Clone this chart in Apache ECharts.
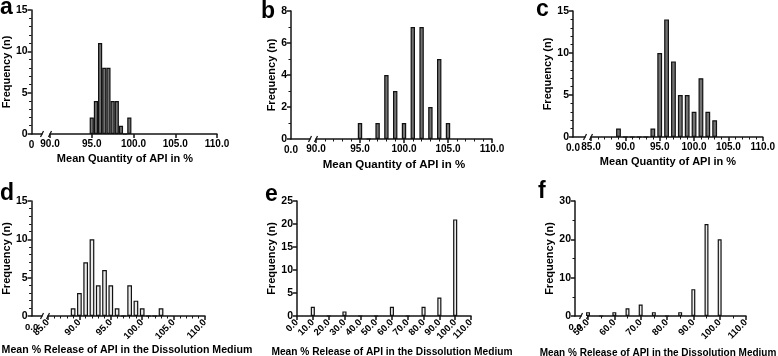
<!DOCTYPE html>
<html>
<head>
<meta charset="utf-8">
<script src="https://cdn.jsdelivr.net/npm/echarts@6/dist/echarts.min.js"></script>
<style>
  html, body { margin: 0; padding: 0; background: #fff; }
  #main { width: 778px; height: 356px; }
</style>
</head>
<body>
<div id="main"></div>
<script>
// a-c: mean quantity of API (%), d-f: mean % release in dissolution medium
const binsA = [95.0, 95.5, 96.0, 96.5, 97.0, 97.5, 98.0, 98.5, 99.0, 99.5]
const freqA = [2, 4, 11, 8, 8, 4, 4, 1, 0, 2]
const binsB = [95, 96, 97, 98, 99, 100, 101, 102, 103, 104, 105]
const freqB = [1, 0, 1, 4, 3, 1, 7, 7, 2, 5, 1]
const binsC = [89, 90, 91, 92, 93, 94, 95, 96, 97, 98, 99, 100, 101, 102, 103]
const freqC = [1, 0, 0, 0, 0, 1, 10, 14, 9, 5, 5, 3, 7, 3, 2]
const binsD = [89, 90, 91, 92, 93, 94, 95, 96, 97, 98, 99, 100, 101, 102, 103]
const freqD = [1, 3, 7, 10, 4, 6, 4, 1, 0, 4, 2, 1, 0, 0, 1]
const binsE = [10, 20, 30, 40, 50, 60, 70, 80, 90, 100]
const freqE = [2, 0, 1, 0, 0, 2, 0, 2, 4, 21]
const binsF = [50, 55, 60, 65, 70, 75, 80, 85, 90, 95, 100]
const freqF = [1, 0, 1, 2, 3, 1, 0, 1, 7, 24, 20]

// axis ranges: [min, max, interval]
const xTicksA = [90, 110, 5]
const xTicksB = [90, 110, 5]
const xTicksC = [85, 110, 5]
const xTicksD = [85, 110, 5]
const xTicksE = [0, 110, 10]
const xTicksF = [50, 110, 10]
const yTicksA = [0, 15, 5]
const yTicksB = [0, 8, 2]
const yTicksC = [0, 15, 5]
const yTicksD = [0, 15, 5]
const yTicksE = [0, 25, 5]
const yTicksF = [0, 30, 10]

const titleTop = 'Mean Quantity of API in %'
const titleBottom = 'Mean % Release of API in the Dissolution Medium'
const yTitle = 'Frequency (n)'

const FONT = '"Liberation Sans", Arial, sans-serif'
const LINE = '#151515'
const DARK = '#727272'
const LIGHT = '#ebebeb'

let grids = []
let xAxes = []
let yAxes = []
let series = []
let graphics = []
let breakMarks = []

function lineStyle() {
  return { color: LINE, width: 1.5 }
}

function addPanel(p) {
  let h = p.bottom - p.top
  let yGrid = grids.length
  let yAxis = {
    type: 'value',
    min: p.yTicks[0],
    max: p.yTicks[1],
    interval: p.yTicks[2],
    name: yTitle,
    nameLocation: 'middle',
    nameGap: p.nameGap,
    nameTextStyle: { fontFamily: FONT, fontWeight: 'bold', fontSize: 11, color: '#000' },
    axisLine: { show: true, lineStyle: lineStyle() },
    axisTick: { show: true, length: 4, lineStyle: lineStyle() },
    minorTick: { show: p.yMinor > 0, splitNumber: p.yMinor || 5, length: 2.5, lineStyle: { color: LINE, width: 1 } },
    splitLine: { show: false },
    minorSplitLine: { show: false },
    axisLabel: { fontFamily: FONT, fontWeight: 'bold', fontSize: 10.5, color: '#000', margin: 4 },
  }
  let mainX = {
    type: 'value',
    min: p.xTicks[0],
    max: p.xTicks[1],
    interval: p.xTicks[2],
    axisLine: { show: true, onZero: false, lineStyle: lineStyle() },
    axisTick: { show: true, length: 4, lineStyle: lineStyle() },
    minorTick: { show: p.xMinor > 0, splitNumber: p.xMinor || 5, length: 2.5, lineStyle: { color: LINE, width: 1 } },
    splitLine: { show: false },
    minorSplitLine: { show: false },
    axisLabel: {
      formatter: (v) => v.toFixed(1),
      rotate: p.rotate,
      fontFamily: FONT,
      fontWeight: 'bold',
      fontSize: p.xFont,
      color: '#000',
      margin: 5,
      showMinLabel: true,
      showMaxLabel: true,
      hideOverlap: false,
    },
  }
  let mainGrid
  if (p.stubRight) {
    // short segment before the axis break
    grids.push({ left: p.axisX, top: p.top, width: p.stubRight - p.axisX, height: h })
    xAxes.push({
      gridIndex: yGrid,
      type: 'value',
      min: 0,
      max: 1,
      interval: 1,
      axisLine: { show: true, onZero: false, lineStyle: lineStyle() },
      axisTick: { show: false },
      splitLine: { show: false },
      axisLabel: {
        formatter: (v) => (v === 0 ? p.zeroLabel : ''),
        fontFamily: FONT,
        fontWeight: 'bold',
        fontSize: p.xFont,
        color: '#000',
        margin: 6,
        showMinLabel: true,
        showMaxLabel: true,
      },
    })
    yAxes.push(Object.assign({ gridIndex: yGrid }, yAxis))
    mainGrid = grids.length
    grids.push({ left: p.mainLeft, top: p.top, width: p.mainRight - p.mainLeft, height: h })
    xAxes.push(Object.assign({ gridIndex: mainGrid }, mainX))
    yAxes.push({ gridIndex: mainGrid, type: 'value', show: false, min: p.yTicks[0], max: p.yTicks[1] })
    breakMarks.push({ grid: yGrid, x: 1, y: 0 }, { grid: mainGrid, x: p.xTicks[0], y: 0 })
  } else {
    mainGrid = grids.length
    grids.push({ left: p.axisX, top: p.top, width: p.mainRight - p.axisX, height: h })
    xAxes.push(Object.assign({ gridIndex: mainGrid }, mainX))
    yAxes.push(Object.assign({ gridIndex: mainGrid }, yAxis))
  }
  series.push({
    type: 'bar',
    xAxisIndex: mainGrid,
    yAxisIndex: mainGrid,
    barWidth: p.barWidth,
    data: p.bins.map((b, i) => [b, p.freq[i]]),
    itemStyle: { color: p.fill, borderColor: '#111', borderWidth: 1.2 },
    emphasis: { disabled: true },
    silent: true,
    animation: false,
  })
  graphics.push({
    type: 'text',
    x: p.letter[1],
    y: p.letter[2],
    style: { text: p.letter[0], font: 'bold 23px ' + FONT, fill: '#000', verticalAlign: 'bottom' },
  })
  graphics.push({
    type: 'text',
    x: p.title[1],
    y: p.title[2],
    style: {
      text: p.title[0],
      font: 'bold ' + p.title[3] + 'px ' + FONT,
      fill: '#000',
      align: 'center',
      verticalAlign: 'middle',
    },
  })
}

addPanel({ bins: binsA, freq: freqA, xTicks: xTicksA, yTicks: yTicksA, axisX: 31, stubRight: 42, mainLeft: 50, mainRight: 217,
  top: 10, bottom: 134, yMinor: 5, xMinor: 0, rotate: 0, xFont: 10, nameGap: 19, zeroLabel: '0', barWidth: '100%', fill: DARK,
  letter: ['a', 0, 19], title: [titleTop, 125, 159, 11] })
addPanel({ bins: binsB, freq: freqB, xTicks: xTicksB, yTicks: yTicksB, axisX: 291, stubRight: 310, mainLeft: 316, mainRight: 492,
  top: 11, bottom: 139, yMinor: 2, xMinor: 5, rotate: 0, xFont: 10, nameGap: 9, zeroLabel: '0.0', barWidth: '50%', fill: DARK,
  letter: ['b', 261, 23], title: [titleTop, 394, 165, 11.5] })
addPanel({ bins: binsC, freq: freqC, xTicks: xTicksC, yTicks: yTicksC, axisX: 573, stubRight: 585, mainLeft: 591, mainRight: 763,
  top: 11, bottom: 137, yMinor: 5, xMinor: 5, rotate: 0, xFont: 10, nameGap: 19, zeroLabel: '0.0', barWidth: '70%', fill: DARK,
  letter: ['c', 536, 21], title: [titleTop, 668, 162, 11] })
addPanel({ bins: binsD, freq: freqD, xTicks: xTicksD, yTicks: yTicksD, axisX: 31, stubRight: 42, mainLeft: 48, mainRight: 205,
  top: 201, bottom: 316, yMinor: 5, xMinor: 5, rotate: 45, xFont: 9.5, nameGap: 16, zeroLabel: '0.0', barWidth: '75%', fill: LIGHT,
  letter: ['d', 0, 205], title: [titleBottom, 127, 350, 10.6] })
addPanel({ bins: binsE, freq: freqE, xTicks: xTicksE, yTicks: yTicksE, axisX: 297, mainLeft: 297, mainRight: 471,
  top: 201, bottom: 316, yMinor: 0, xMinor: 0, rotate: 45, xFont: 9.5, nameGap: 17, zeroLabel: '0.0', barWidth: '26%', fill: LIGHT,
  letter: ['e', 265, 206], title: [titleBottom, 392, 352, 10.2] })
addPanel({ bins: binsF, freq: freqF, xTicks: xTicksF, yTicks: yTicksF, axisX: 575, stubRight: 581, mainLeft: 588, mainRight: 746,
  top: 201, bottom: 316, yMinor: 2, xMinor: 2, rotate: 45, xFont: 9.5, nameGap: 18, zeroLabel: '0.0', barWidth: '30%', fill: LIGHT,
  letter: ['f', 538, 203], title: [titleBottom, 658, 353, 10] })

let chart = echarts.init(document.getElementById('main'))
let option = {
  animation: false,
  backgroundColor: '#fff',
  grid: grids,
  xAxis: xAxes,
  yAxis: yAxes,
  series: series,
  graphic: graphics,
}
chart.setOption(option)

// break marks "/" at the end of the short segment and start of the main axis
let marks = breakMarks.map((m) => {
  let pt = chart.convertToPixel({ gridIndex: m.grid }, [m.x, m.y])
  return {
    type: 'line',
    shape: { x1: pt[0] - 1.5, y1: pt[1] + 3, x2: pt[0] + 1.5, y2: pt[1] - 3 },
    style: { stroke: LINE, lineWidth: 1.3 },
  }
})
chart.setOption({ graphic: graphics.concat(marks) })
</script>
</body>
</html>
